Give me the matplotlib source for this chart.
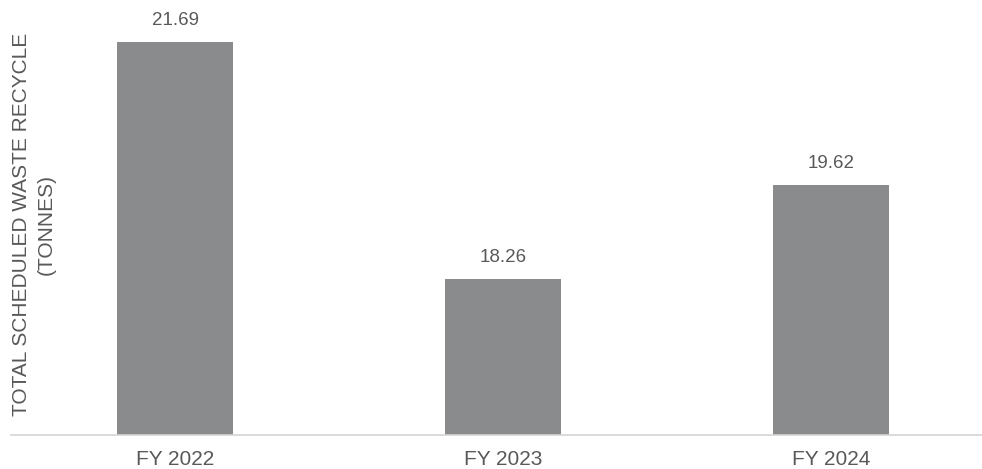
import matplotlib
matplotlib.use("Agg")
import matplotlib.pyplot as plt

plt.rcParams['font.family'] = ['Liberation Sans', 'DejaVu Sans']

years = ["FY 2022", "FY 2023", "FY 2024"]
recycled = [21.69, 18.26, 19.62]

bar_color = "#8a8b8d"
text_color = "#595959"

fig = plt.figure(figsize=(9.82, 4.69), dpi=100)
ax = fig.add_axes([11 / 982, 34 / 469, 1 - 11 / 982, 435 / 469])

x = range(len(years))
bars = ax.bar(x, recycled, width=0.354, color=bar_color)

for b, v in zip(bars, recycled):
    ax.annotate(f"{v:.2f}", (b.get_x() + b.get_width() / 2, v),
                xytext=(0, 9), textcoords="offset points",
                ha="center", va="bottom", fontsize=13.5, color=text_color)

ax.set_xlim(-0.5, 2.46)
ax.set_ylim(16, 16 + 435 / 69.1)
ax.set_xticks(list(x))
ax.set_xticklabels(years, fontsize=15, color=text_color)
ax.tick_params(axis="x", length=0, pad=11)
ax.set_yticks([])

for side in ["top", "right", "left"]:
    ax.spines[side].set_visible(False)
ax.spines["bottom"].set_color("#d4d4d4")
ax.spines["bottom"].set_linewidth(1.2)

fig.text(34 / 982, 1 - 224 / 469, "TOTAL SCHEDULED WASTE RECYCLE\n(TONNES)",
         rotation=90, ha="center", va="center", multialignment="center",
         fontsize=15, color=text_color, linespacing=1.35)

fig.savefig("out.png", dpi=100)
